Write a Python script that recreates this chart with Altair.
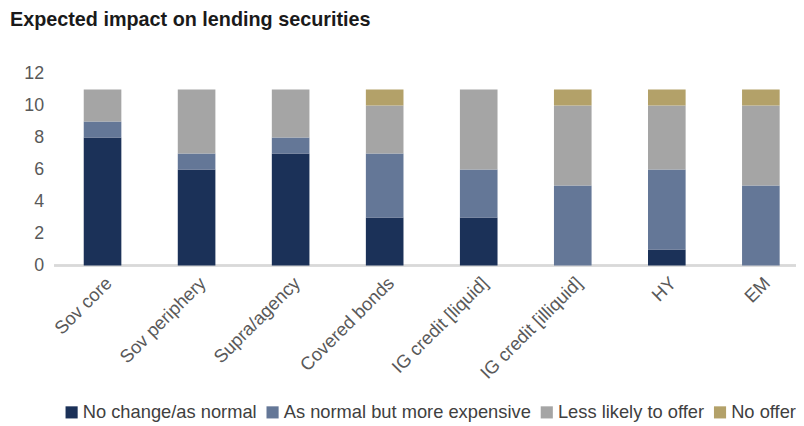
import altair as alt
import pandas as pd

categories = ["Sov core", "Sov periphery", "Supra/agency", "Covered bonds",
              "IG credit [liquid]", "IG credit [illiquid]", "HY", "EM"]
series = ["No change/as normal", "As normal but more expensive",
          "Less likely to offer", "No offer"]
no_change = [8, 6, 7, 3, 3, 0, 1, 0]
more_expensive = [1, 1, 1, 4, 3, 5, 5, 5]
less_likely = [2, 4, 3, 3, 5, 5, 4, 5]
no_offer = [0, 0, 0, 1, 0, 1, 1, 1]
colors = ["#1B3158", "#647797", "#A5A5A5", "#B3A169"]
y_ticks = [0, 2, 4, 6, 8, 10, 12]

rows = []
for s_i, (s, vals) in enumerate(zip(series, [no_change, more_expensive, less_likely, no_offer])):
    for c, v in zip(categories, vals):
        rows.append({"category": c, "series": s, "value": v, "order": s_i})
df = pd.DataFrame(rows)

W = 740
H = 194
FONT = "Liberation Sans"
LABEL_COLOR = "#595959"

baseline = alt.Chart(df).mark_rule(color="#d9d9d9", strokeWidth=1.5).encode(
    x=alt.value(-1), x2=alt.value(W + 10), y=alt.value(H)
)

bars = alt.Chart(df).mark_bar(size=38).encode(
    x=alt.X("category:N", sort=categories,
            scale=alt.Scale(range=[0, 760], paddingInner=0.6, paddingOuter=0.3),
            axis=alt.Axis(title=None, labelAngle=-45, labelFontSize=18.5,
                          labelColor=LABEL_COLOR, domain=False, ticks=False,
                          labelPadding=8, labelFont=FONT, labelLimit=0)),
    y=alt.Y("sum(value):Q", scale=alt.Scale(domain=[0, 12], nice=False),
            axis=alt.Axis(values=y_ticks, title=None, grid=False, domain=False,
                          ticks=False, labelFontSize=18, labelColor=LABEL_COLOR,
                          labelPadding=12, labelFont=FONT)),
    color=alt.Color("series:N", sort=series,
                    scale=alt.Scale(domain=series, range=colors),
                    legend=alt.Legend(title=None, orient="none", direction="horizontal",
                                      legendX=7, legendY=333, symbolType="square",
                                      symbolSize=150, symbolStrokeWidth=0,
                                      labelFontSize=18.5, labelColor="#404040",
                                      labelFont=FONT, labelOffset=2, labelLimit=0,
                                      columnPadding=6)),
    order=alt.Order("order:Q", sort="ascending"),
)

chart = alt.layer(baseline, bars).properties(
    width=W, height=H,
    title=alt.Title("Expected impact on lending securities", anchor="start",
                    frame="group", dx=-46, offset=35, fontSize=20,
                    fontWeight="bold", color="#1a1a1a", font=FONT),
    autosize=alt.AutoSizeParams(type="none"),
    padding={"left": 48, "top": 64, "right": 8, "bottom": 160},
).configure_view(stroke=None)

chart.save("out.html", embed_options={"renderer": "svg", "actions": False})
